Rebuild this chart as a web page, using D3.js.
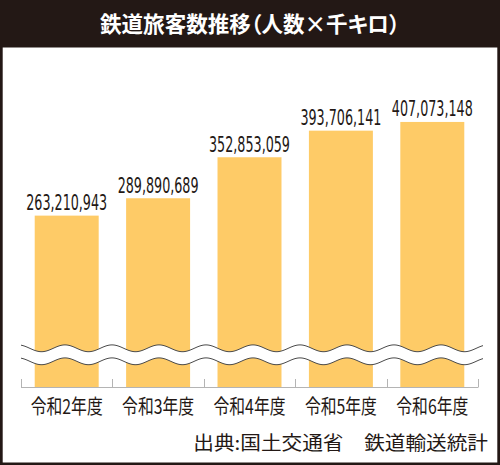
<!DOCTYPE html>
<html>
<head>
<meta charset="utf-8">
<script src="https://cdn.jsdelivr.net/npm/d3@7"></script>
<style>
  body { margin: 0; background: #fff; }
  svg { display: block; }
</style>
</head>
<body>
<svg id="chart"></svg>
<script>
"use strict";

// data
var years = ["令和2年度", "令和3年度", "令和4年度", "令和5年度", "令和6年度"];
var passengers = [263210943, 289890689, 352853059, 393706141, 407073148];
var titleText = "鉄道旅客数推移（人数×千キロ）";
var sourceText = "出典:国土交通省　鉄道輸送統計";

var W = 500, H = 465;
var dark = "#231815";
var barColor = "#fecb67";
var cjk = "'Noto Sans CJK JP', 'Noto Sans', sans-serif";
var narrow = "'Liberation Sans Narrow', 'DejaVu Sans Condensed', Roboto, sans-serif";

var svg = d3.select("#chart").attr("width", W).attr("height", H);

// squeeze a text horizontally around its anchor so it takes the given width
function fitWidth(sel, width) {
    sel.each(function () {
        var t = d3.select(this);
        var len = this.getComputedTextLength();
        var x = +t.attr("x");
        var k = width / len;
        t.attr("transform", "translate(" + x + ",0) scale(" + k + ",1) translate(" + (-x) + ",0)");
    });
}

// frame and title bar
svg.append("rect").attr("width", W).attr("height", H).attr("fill", dark);
svg.append("rect")
    .attr("x", 2.7).attr("y", 47.5)
    .attr("width", W - 5.4).attr("height", H - 47.5 - 2.5)
    .attr("fill", "#fff");

svg.append("text")
    .attr("x", 250).attr("y", 32.5)
    .attr("text-anchor", "middle")
    .attr("fill", "#fff")
    .style("font-family", cjk)
    .style("font-weight", "bold")
    .style("font-size", "22px")
    .style("font-feature-settings", "'palt'")
    .text(titleText)
    .call(fitWidth, 300);

// scales
var x = d3.scaleBand()
    .domain(years)
    .range([21, 478])
    .paddingInner(0.3)
    .paddingOuter(0.15);

var y = d3.scaleLinear()
    .domain([0, 450000000])
    .range([387, 94]);

var step = x.step();
var fmt = d3.format(",");

// bars
svg.selectAll(".bar")
    .data(passengers)
    .enter()
    .append("rect")
    .attr("class", "bar")
    .attr("x", function (d, i) { return x(years[i]); })
    .attr("y", function (d) { return y(d); })
    .attr("width", x.bandwidth())
    .attr("height", function (d) { return y(0) - y(d); })
    .attr("fill", barColor);

// value labels
var valueLabels = svg.selectAll(".value")
    .data(passengers)
    .enter()
    .append("text")
    .attr("class", "value")
    .attr("x", function (d, i) { return x(years[i]) + x.bandwidth() / 2; })
    .attr("y", function (d) { return y(d) - 5.5; })
    .attr("text-anchor", "middle")
    .attr("fill", dark)
    .style("font-family", narrow)
    .style("font-size", "22px")
    .text(function (d) { return fmt(d); });

// one squeeze factor for all value labels, taken from the first one
var firstLen = valueLabels.node().getComputedTextLength();
var kv = 81 / firstLen;
valueLabels.attr("transform", function () {
    var cx = +d3.select(this).attr("x");
    return "translate(" + cx + ",0) scale(" + kv + ",1) translate(" + (-cx) + ",0)";
});

// axis line and ticks at the band edges
var edges = years.map(function (d) { return x(d) - step * 0.15; });
edges.push(x.range()[1]);

svg.append("line")
    .attr("x1", 21).attr("x2", 478)
    .attr("y1", 387.5).attr("y2", 387.5)
    .attr("stroke", "#b4b4b4").attr("stroke-width", 1);

svg.selectAll(".tick")
    .data(edges)
    .enter()
    .append("line")
    .attr("class", "tick")
    .attr("x1", function (d) { return Math.round(d) + 0.5; })
    .attr("x2", function (d) { return Math.round(d) + 0.5; })
    .attr("y1", 379).attr("y2", 387.5)
    .attr("stroke", "#b4b4b4").attr("stroke-width", 1);

// wavy break across the chart
var waveX = d3.range(21, 483.5, 1);
var waveMid = 348.3, waveGap = 13, waveAmp = 3.4, wavePeriod = 47, wavePhase = 65;
function waveY(px) {
    return waveMid - waveAmp * Math.cos(2 * Math.PI * (px - wavePhase) / wavePeriod);
}

var area = d3.area()
    .x(function (d) { return d; })
    .y0(function (d) { return waveY(d); })
    .y1(function (d) { return waveY(d) + waveGap; })
    .curve(d3.curveBasis);

svg.append("path")
    .datum(waveX)
    .attr("d", area)
    .attr("fill", "#fff");

var upper = d3.line().x(function (d) { return d; }).y(function (d) { return waveY(d); });
var lower = d3.line().x(function (d) { return d; }).y(function (d) { return waveY(d) + waveGap; });

[upper, lower].forEach(function (gen) {
    svg.append("path")
        .datum(waveX)
        .attr("d", gen)
        .attr("fill", "none")
        .attr("stroke", "#4a4a4a")
        .attr("stroke-width", 1);
});

// category labels
var catLabels = svg.selectAll(".cat")
    .data(years)
    .enter()
    .append("text")
    .attr("class", "cat")
    .attr("x", function (d) { return x(d) + x.bandwidth() / 2; })
    .attr("y", 414)
    .attr("text-anchor", "middle")
    .attr("fill", dark)
    .style("font-family", cjk)
    .style("font-size", "20px")
    .text(function (d) { return d; });

var kc = 72 / catLabels.node().getComputedTextLength();
catLabels.attr("transform", function () {
    var cx = +d3.select(this).attr("x");
    return "translate(" + cx + ",0) scale(" + kc + ",1) translate(" + (-cx) + ",0)";
});

// source note
svg.append("text")
    .attr("x", 488).attr("y", 450)
    .attr("text-anchor", "end")
    .attr("fill", dark)
    .style("font-family", cjk)
    .style("font-size", "19px")
    .text(sourceText)
    .call(fitWidth, 295);
</script>
</body>
</html>
